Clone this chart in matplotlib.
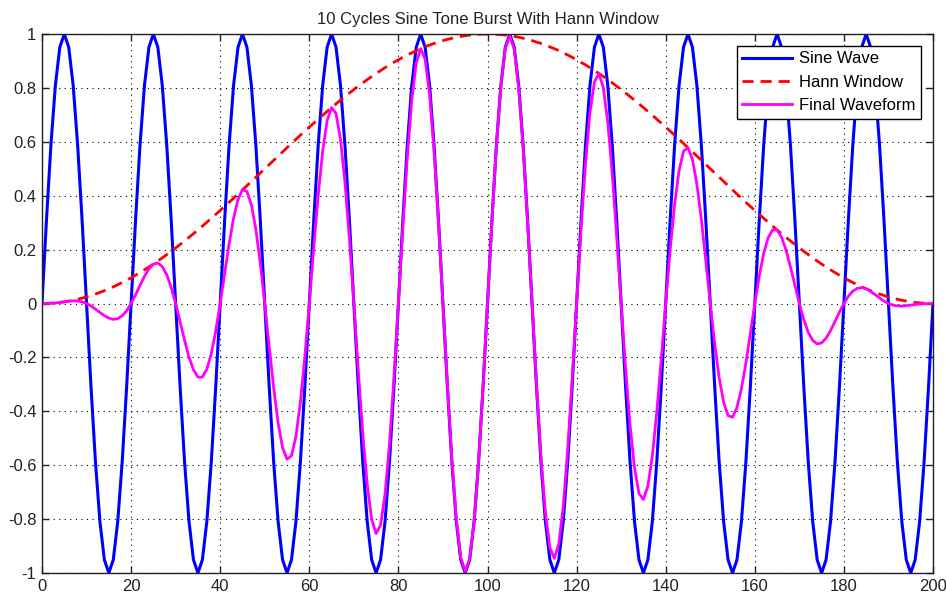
import matplotlib
matplotlib.use("Agg")
import matplotlib.pyplot as plt

plt.rcParams['font.family'] = ['Liberation Sans', 'DejaVu Sans']

# sample index
n = list(range(201))

# sine wave, 10 cycles (20 samples per cycle)
sine_wave = [
    0, .309, .588, .809, .951, 1, .951, .809, .588, .309, 0, -.309, -.588, -.809, -.951, -1, -.951, -.809, -.588, -.309,
    0, .309, .588, .809, .951, 1, .951, .809, .588, .309, 0, -.309, -.588, -.809, -.951, -1, -.951, -.809, -.588, -.309,
    0, .309, .588, .809, .951, 1, .951, .809, .588, .309, 0, -.309, -.588, -.809, -.951, -1, -.951, -.809, -.588, -.309,
    0, .309, .588, .809, .951, 1, .951, .809, .588, .309, 0, -.309, -.588, -.809, -.951, -1, -.951, -.809, -.588, -.309,
    0, .309, .588, .809, .951, 1, .951, .809, .588, .309, 0, -.309, -.588, -.809, -.951, -1, -.951, -.809, -.588, -.309,
    0, .309, .588, .809, .951, 1, .951, .809, .588, .309, 0, -.309, -.588, -.809, -.951, -1, -.951, -.809, -.588, -.309,
    0, .309, .588, .809, .951, 1, .951, .809, .588, .309, 0, -.309, -.588, -.809, -.951, -1, -.951, -.809, -.588, -.309,
    0, .309, .588, .809, .951, 1, .951, .809, .588, .309, 0, -.309, -.588, -.809, -.951, -1, -.951, -.809, -.588, -.309,
    0, .309, .588, .809, .951, 1, .951, .809, .588, .309, 0, -.309, -.588, -.809, -.951, -1, -.951, -.809, -.588, -.309,
    0, .309, .588, .809, .951, 1, .951, .809, .588, .309, 0, -.309, -.588, -.809, -.951, -1, -.951, -.809, -.588, -.309,
    0,
]

# hann window
hann_window = [
    0, .0002, .0010, .0022, .0039, .0062, .0089, .0120, .0157, .0199,
    .0245, .0296, .0351, .0411, .0476, .0545, .0618, .0696, .0778, .0865,
    .0955, .1049, .1147, .1249, .1355, .1464, .1577, .1693, .1813, .1935,
    .2061, .2190, .2321, .2455, .2591, .2730, .2871, .3014, .3159, .3305,
    .3455, .3603, .3755, .3907, .4061, .4216, .4372, .4529, .4686, .4843,
    .5000, .5157, .5314, .5471, .5628, .5784, .5939, .6093, .6245, .6397,
    .6545, .6695, .6841, .6986, .7129, .7270, .7409, .7545, .7679, .7810,
    .7939, .8065, .8187, .8307, .8423, .8536, .8645, .8751, .8853, .8951,
    .9045, .9135, .9222, .9304, .9382, .9455, .9524, .9589, .9649, .9704,
    .9755, .9801, .9843, .9880, .9911, .9938, .9961, .9978, .9990, .9998,
    1.0,
    .9998, .9990, .9978, .9961, .9938, .9911, .9880, .9843, .9801, .9755,
    .9704, .9649, .9589, .9524, .9455, .9382, .9304, .9222, .9135, .9045,
    .8951, .8853, .8751, .8645, .8536, .8423, .8307, .8187, .8065, .7939,
    .7810, .7679, .7545, .7409, .7270, .7129, .6986, .6841, .6695, .6545,
    .6397, .6245, .6093, .5939, .5784, .5628, .5471, .5314, .5157, .5000,
    .4843, .4686, .4529, .4372, .4216, .4061, .3907, .3755, .3603, .3455,
    .3305, .3159, .3014, .2871, .2730, .2591, .2455, .2321, .2190, .2061,
    .1935, .1813, .1693, .1577, .1464, .1355, .1249, .1147, .1049, .0955,
    .0865, .0778, .0696, .0618, .0545, .0476, .0411, .0351, .0296, .0245,
    .0199, .0157, .0120, .0089, .0062, .0039, .0022, .0010, .0002, 0,
]

# final waveform (burst)
final_waveform = [
    0, 0, .001, .002, .004, .006, .008, .010, .009, .006,
    0, -.009, -.021, -.033, -.045, -.054, -.059, -.056, -.046, -.027,
    0, .032, .067, .101, .129, .146, .150, .137, .107, .060,
    0, -.068, -.136, -.199, -.246, -.273, -.273, -.244, -.186, -.102,
    0, .111, .221, .316, .386, .422, .416, .366, .275, .150,
    0, -.159, -.312, -.443, -.535, -.578, -.565, -.493, -.367, -.198,
    0, .207, .402, .565, .678, .727, .705, .610, .451, .241,
    0, -.249, -.481, -.672, -.801, -.854, -.822, -.708, -.520, -.277,
    0, .282, .542, .753, .892, .946, .906, .776, .567, .300,
    0, -.303, -.579, -.799, -.943, -.994, -.947, -.807, -.587, -.309,
    0, .309, .587, .807, .947, .994, .943, .799, .579, .303,
    0, -.300, -.567, -.776, -.906, -.946, -.892, -.753, -.542, -.282,
    0, .277, .520, .708, .822, .854, .801, .672, .481, .249,
    0, -.241, -.451, -.610, -.705, -.727, -.678, -.565, -.402, -.207,
    0, .198, .367, .493, .565, .578, .535, .443, .312, .159,
    0, -.150, -.275, -.366, -.416, -.422, -.386, -.316, -.221, -.111,
    0, .102, .186, .244, .273, .273, .246, .199, .136, .068,
    0, -.060, -.107, -.137, -.150, -.146, -.129, -.101, -.067, -.032,
    0, .027, .046, .056, .059, .054, .045, .033, .021, .009,
    0, -.006, -.009, -.010, -.008, -.006, -.004, -.002, -.001, 0,
    0,
]

x_ticks = [0, 20, 40, 60, 80, 100, 120, 140, 160, 180, 200]
y_ticks = [-1, -0.8, -0.6, -0.4, -0.2, 0, 0.2, 0.4, 0.6, 0.8, 1]
y_labels = ['-1', '-0.8', '-0.6', '-0.4', '-0.2', '0', '0.2', '0.4', '0.6', '0.8', '1']

fig = plt.figure(figsize=(9.46, 5.94), dpi=100)
ax = fig.add_axes([42 / 946, 1 - 573 / 594, (933 - 42) / 946, (573 - 34) / 594])

ax.plot(n, sine_wave, color='#0000ff', lw=2.2, label='Sine Wave')
ax.plot(n, hann_window, color='#ff0000', lw=2, ls=(0, (4, 2.5)), label='Hann Window')
ax.plot(n, final_waveform, color='#ff00ff', lw=2, label='Final Waveform')

ax.set_xlim(0, 200)
ax.set_ylim(-1, 1)
ax.set_xticks(x_ticks)
ax.set_yticks(y_ticks)
ax.set_yticklabels(y_labels)
ax.tick_params(direction='in', length=5, width=1, labelsize=12, top=True, right=True, pad=4,
               colors='#222222')
ax.grid(True, color='black', ls=(0, (1, 4)), lw=0.8)
ax.set_axisbelow(True)
for s in ax.spines.values():
    s.set_linewidth(1)
    s.set_color('#222222')

ax.set_title('10 Cycles Sine Tone Burst With Hann Window', fontsize=12, pad=7, color='#222222')

leg = ax.legend(loc='upper right', fontsize=12, fancybox=False, framealpha=1,
                edgecolor='black', handlelength=3.0, borderaxespad=0.7,
                labelspacing=0.5, handletextpad=0.4, borderpad=0.35)
leg.get_frame().set_linewidth(1)

fig.savefig('out.png', dpi=100)
